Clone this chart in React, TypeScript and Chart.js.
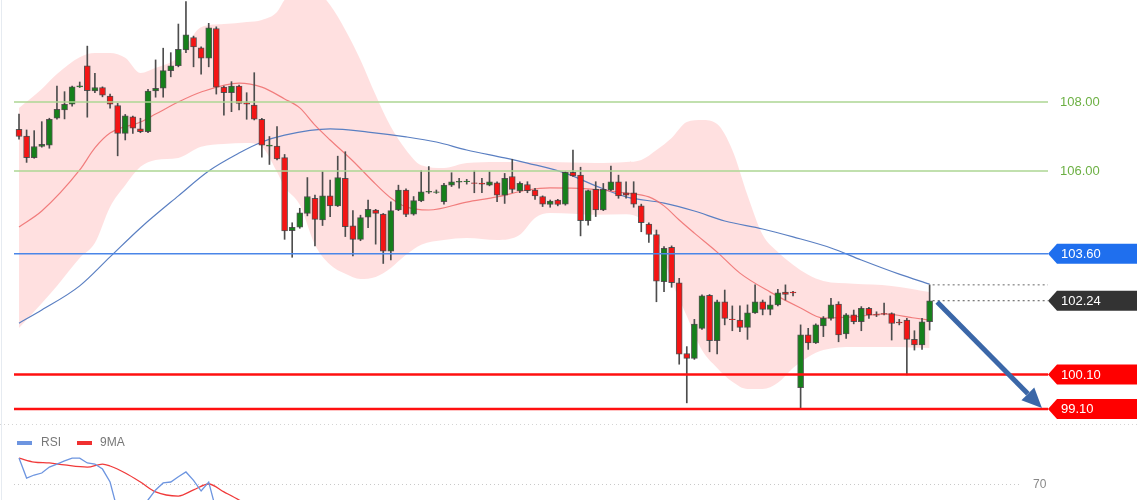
import { useEffect, useRef } from 'react';
import { Chart, registerables } from 'chart.js';

Chart.register(...registerables);

const FONT = '"Liberation Sans", Arial, Helvetica, sans-serif';

// ---- Candles (one per session) ----
const openP = [107.21,107.01,106.39,106.71,106.75,107.53,107.77,107.94,108.44,109.05,
108.32,108.42,108.17,107.90,107.09,107.57,107.22,107.14,108.32,108.40,
108.91,109.05,109.51,109.87,109.57,109.27,110.13,108.43,108.27,108.46,
107.98,107.91,107.50,106.72,106.72,106.39,104.27,104.37,104.77,105.21,
104.58,105.28,104.99,105.79,104.41,104.02,104.66,104.87,104.75,103.68,
104.87,105.45,104.75,105.13,105.39,105.38,105.11,105.59,105.68,105.69,
105.66,105.65,105.59,105.66,105.30,105.84,105.42,105.61,105.45,105.26,
105.03,105.16,105.04,105.96,105.88,104.56,105.47,104.87,105.45,105.69,
105.37,105.37,104.99,104.46,104.16,102.79,103.79,102.76,100.71,100.57,
101.44,102.40,101.08,102.21,101.71,101.68,101.47,101.89,102.21,101.99,
102.12,102.49,102.49,99.72,101.25,101.02,101.51,101.73,102.14,101.28,
101.83,101.63,102.02,101.84,101.87,101.87,101.62,101.68,101.12,100.96,
101.63];
const highP = [107.65,107.19,107.17,107.43,107.53,108.46,108.30,108.46,108.58,109.62,
108.83,108.44,108.23,107.96,107.64,107.59,107.53,108.37,109.22,109.56,
109.43,110.26,110.91,109.91,109.60,110.28,110.18,108.46,108.59,108.49,
108.27,108.85,107.53,107.00,107.29,106.48,104.50,104.92,105.81,105.30,
105.98,105.74,106.43,106.56,104.85,104.72,105.16,104.89,104.77,105.11,
105.59,105.48,105.26,106.01,106.13,105.45,105.64,105.95,105.79,105.76,
106.00,105.79,105.98,105.69,105.93,106.34,105.69,105.69,105.50,105.28,
105.16,105.18,105.98,106.61,106.11,105.45,105.69,105.64,106.14,105.88,
105.69,105.69,105.04,104.50,104.29,103.81,103.83,102.89,100.91,101.70,
102.41,102.42,102.26,102.55,102.09,102.09,102.12,102.70,102.26,102.38,
102.57,102.70,102.51,101.54,101.44,101.57,101.78,102.31,102.21,101.87,
101.97,102.07,102.05,101.92,102.17,101.89,101.70,101.73,101.37,101.73,
102.70];
const lowP = [106.92,106.25,106.37,106.69,106.66,107.50,107.51,107.88,108.42,107.56,
108.27,108.15,107.82,106.44,106.90,107.09,107.11,107.11,108.14,108.14,
108.73,109.02,109.43,109.02,108.81,109.02,108.23,107.62,107.72,107.77,
107.50,107.48,106.40,106.19,106.32,104.02,103.50,104.34,104.70,103.83,
104.42,104.68,104.97,104.10,103.54,103.98,104.36,103.88,103.32,103.42,
104.85,104.68,104.72,105.11,105.35,105.35,105.04,105.55,105.50,105.62,
105.37,105.37,105.57,105.11,105.06,105.37,105.37,105.37,105.18,104.97,
104.95,104.99,105.01,105.84,104.12,104.43,104.68,104.85,105.43,105.21,
105.21,104.95,104.24,103.93,102.21,102.50,102.63,100.40,99.28,100.54,
101.41,100.76,100.70,101.54,101.37,101.34,101.12,101.87,101.83,101.83,
102.09,102.26,102.38,99.09,100.83,101.00,101.20,101.68,101.05,101.15,
101.57,101.37,101.73,101.78,101.83,101.10,101.54,100.09,100.81,100.83,
101.39];
const closeP = [107.00,106.39,106.71,106.77,107.50,107.79,107.93,108.44,108.47,108.33,
108.42,108.20,107.94,107.09,107.60,107.24,107.14,108.32,108.40,108.91,
109.05,109.53,109.95,109.60,109.27,110.15,108.43,108.27,108.46,107.96,
107.94,107.50,106.75,106.75,106.35,104.26,104.37,104.79,105.26,104.60,
105.28,104.99,105.81,104.39,104.02,104.65,104.89,104.77,103.68,104.85,
105.45,104.74,105.14,105.40,105.41,105.40,105.59,105.69,105.70,105.71,
105.64,105.62,105.69,105.30,105.79,105.47,105.64,105.43,105.28,105.04,
105.13,105.03,105.96,105.86,104.56,105.43,104.87,105.47,105.69,105.28,
105.30,105.04,104.50,104.16,102.81,103.76,102.76,100.69,100.57,101.56,
102.38,101.08,102.21,101.73,101.69,101.47,101.89,102.21,101.99,102.12,
102.47,102.42,102.47,101.25,101.02,101.54,101.73,102.12,101.25,101.83,
101.63,102.02,101.83,101.82,101.85,101.58,101.60,101.12,100.96,101.63,
102.24];

// ---- Bollinger band ----
const bandIdx = [0,3,5,8,10,12,14,16,18,21,24,27,30,32,34,35,37,39,41,43,45,47,49,51,53,56,59,63,66,68,70,76,80,82,84,86,88,90,92,94,96,98,100,102,104,106,110,115,120];
const bandUpper = [107.83,108.38,108.81,109.30,109.42,109.42,109.28,108.84,108.99,109.30,110.17,110.26,110.32,110.38,110.61,110.96,111.30,111.25,110.81,110.09,109.22,108.20,107.28,106.61,106.17,106.09,106.23,106.26,106.26,106.26,106.26,106.23,106.26,106.32,106.61,106.96,107.42,107.48,107.36,106.61,105.30,104.15,103.65,103.28,102.99,102.81,102.73,102.67,102.49];
const bandLower = [101.45,102.17,102.67,103.48,103.91,104.96,105.59,106.12,106.32,106.38,106.70,106.78,106.81,106.70,105.97,105.54,105.02,103.86,103.28,103.02,102.87,102.93,103.19,103.57,103.86,104.00,104.06,104.00,104.15,104.64,104.78,104.73,104.75,104.61,104.09,102.81,101.80,100.81,100.29,99.89,99.68,99.68,99.86,100.29,100.61,100.81,100.90,100.90,100.87];

// ---- Moving averages ----
const maRedIdx = [0,3,8,10,12,16,18,21,24,29,32,35,37,39,41,44,47,49,51,54,59,63,67,70,75,80,83,85,87,89,92,95,99,103,106,110,114,118,120];
const maRedVals = [104.38,104.84,106.03,106.67,107.10,107.42,107.65,108.0,108.29,108.55,108.43,108.09,107.83,107.33,106.90,106.29,105.62,105.22,104.96,104.87,105.10,105.25,105.45,105.51,105.48,105.36,105.25,104.99,104.58,104.20,103.65,103.04,102.49,102.03,101.74,101.77,101.86,101.74,101.68];
const maBlueIdx = [0,3,8,12,16,21,25,29,32,35,41,46,51,55,59,64,67,72,76,80,85,89,93,98,102,107,111,116,120];
const maBlueVals = [101.59,101.97,102.67,103.51,104.35,105.28,106.0,106.52,106.84,107.04,107.22,107.13,106.99,106.84,106.61,106.38,106.23,105.94,105.57,105.25,105.07,104.84,104.55,104.32,104.09,103.77,103.42,103.01,102.72];

// ---- Levels ----
const greenLevels = [108.0, 106.0];
const blueLevel = 103.6;
const redLevels = [100.1, 99.1];
const arrowFrom = [121, 102.2];
const arrowTo = [134.8, 99.13];

// ---- RSI panel ----
const rsiNames = ['RSI', '9MA'];
const rsiIdx = [0,1,2,3,4,5,6,7,8,9,10,11,12,13,14,15,16,17,18,19,20,21,22,23,24,25,26,27];
const rsiVals = [84.4,73.3,75.0,76.1,79.4,81.1,82.8,84.4,84.4,81.7,81.1,78.3,71.1,55.0,50.0,48.0,55.0,61.1,66.7,70.6,71.1,74.0,76.7,72.0,66.1,71.1,55.0,50.0];
const rsiMaIdx = [0,2,4,6,9,11,12,14,16,18,21,23,25,27,29,31];
const rsiMaVals = [84.4,82.2,81.7,80.6,79.4,81.1,80.0,76.1,71.1,65.6,63.3,66.7,70.0,65.6,61.1,56.0];
const rsiLevel = 70;

const X_MIN = -0.66;
const X_MAX = 135.6;
const Y_MIN = 98.638;
const Y_MAX = 110.957;
const RSI_MIN = 61.1;
const RSI_MAX = 102.8;

const RED = '#f41515';
const GREEN = '#16801b';

function pts(xs: number[], ys: number[]) {
  return xs.map((x, k) => ({ x, y: ys[k] }));
}

function hline(v: number, color: string, width: number) {
  return {
    type: 'line',
    data: [{ x: X_MIN, y: v }, { x: X_MAX, y: v }],
    borderColor: color,
    borderWidth: width,
    pointRadius: 0,
    fill: false,
    order: 4,
  };
}

function drawTag(ctx: CanvasRenderingContext2D, xl: number, xr: number, y: number, color: string, text: string) {
  const h = 20;
  const tip = 9;
  ctx.beginPath();
  ctx.moveTo(xl, y);
  ctx.lineTo(xl + tip, y - h / 2);
  ctx.lineTo(xr, y - h / 2);
  ctx.lineTo(xr, y + h / 2);
  ctx.lineTo(xl + tip, y + h / 2);
  ctx.closePath();
  ctx.fillStyle = color;
  ctx.fill();
  ctx.fillStyle = '#ffffff';
  ctx.font = `13px ${FONT}`;
  ctx.textAlign = 'left';
  ctx.textBaseline = 'middle';
  ctx.fillText(text, xl + 13, y + 0.5);
}

const mainDeco = {
  id: 'mainDeco',
  afterDatasetsDraw(chart: any) {
    const { ctx, chartArea, scales } = chart;
    const xs = scales.x;
    const ys = scales.y;
    const last = closeP.length - 1;
    ctx.save();
    ctx.fillStyle = '#e6ebf1';
    ctx.fillRect(1, 0, 1, chart.height);

    ctx.font = `13px ${FONT}`;
    ctx.textAlign = 'left';
    ctx.textBaseline = 'middle';
    greenLevels.forEach((v) => {
      ctx.fillStyle = '#6cb043';
      ctx.fillText(v.toFixed(2), chartArea.right + 12, ys.getPixelForValue(v) + 0.5);
    });
    const xr = chart.width - 3;
    drawTag(ctx, chartArea.right, xr, ys.getPixelForValue(blueLevel), '#1f6fee', blueLevel.toFixed(2));
    drawTag(ctx, chartArea.right, xr, ys.getPixelForValue(closeP[last]), '#333333', closeP[last].toFixed(2));
    redLevels.forEach((v) => drawTag(ctx, chartArea.right, xr, ys.getPixelForValue(v), '#ff0000', v.toFixed(2)));

    // arrow
    const x1 = xs.getPixelForValue(arrowFrom[0]);
    const y1 = ys.getPixelForValue(arrowFrom[1]);
    const x2 = xs.getPixelForValue(arrowTo[0]);
    const y2 = ys.getPixelForValue(arrowTo[1]);
    const ang = Math.atan2(y2 - y1, x2 - x1);
    const headLen = 20;
    const headW = 9;
    const bx = x2 - headLen * Math.cos(ang);
    const by = y2 - headLen * Math.sin(ang);
    ctx.strokeStyle = '#3b67a8';
    ctx.fillStyle = '#3b67a8';
    ctx.lineWidth = 5;
    ctx.beginPath();
    ctx.moveTo(x1, y1);
    ctx.lineTo(bx, by);
    ctx.stroke();
    ctx.beginPath();
    ctx.moveTo(x2, y2);
    ctx.lineTo(bx + headW * Math.sin(ang), by - headW * Math.cos(ang));
    ctx.lineTo(bx - headW * Math.sin(ang), by + headW * Math.cos(ang));
    ctx.closePath();
    ctx.fill();

    // separator between panels
    ctx.strokeStyle = '#d4d4d4';
    ctx.lineWidth = 1;
    ctx.setLineDash([1, 3]);
    ctx.beginPath();
    ctx.moveTo(0, chart.height - 0.5);
    ctx.lineTo(chart.width, chart.height - 0.5);
    ctx.stroke();
    ctx.restore();
  },
};

function mainConfig(): any {
  const idx = openP.map((_, i) => i);
  const last = idx.length - 1;
  const bodyColors = idx.map((i) => (closeP[i] >= openP[i] ? GREEN : RED));
  return {
    type: 'line',
    data: {
      datasets: [
        {
          type: 'line',
          label: 'BB upper',
          data: pts(bandIdx, bandUpper),
          borderWidth: 0,
          borderColor: 'rgba(0,0,0,0)',
          backgroundColor: 'rgba(255,0,0,0.12)',
          fill: '+1',
          pointRadius: 0,
          cubicInterpolationMode: 'monotone',
          order: 20,
        },
        {
          type: 'line',
          label: 'BB lower',
          data: pts(bandIdx, bandLower),
          borderWidth: 0,
          borderColor: 'rgba(0,0,0,0)',
          fill: false,
          pointRadius: 0,
          cubicInterpolationMode: 'monotone',
          order: 19,
        },
        {
          type: 'line',
          label: 'MA red',
          data: pts(maRedIdx, maRedVals),
          borderColor: 'rgba(238,100,100,0.8)',
          borderWidth: 1.2,
          pointRadius: 0,
          fill: false,
          cubicInterpolationMode: 'monotone',
          order: 15,
        },
        {
          type: 'line',
          label: 'MA blue',
          data: pts(maBlueIdx, maBlueVals),
          borderColor: '#5a7fc2',
          borderWidth: 1.2,
          pointRadius: 0,
          fill: false,
          cubicInterpolationMode: 'monotone',
          order: 15,
        },
        {
          type: 'bar',
          label: 'wicks',
          data: idx.map((i) => ({ x: i, y: [lowP[i], highP[i]] })),
          backgroundColor: '#4d4d4d',
          barThickness: 1,
          grouped: false,
          order: 12,
        },
        {
          type: 'bar',
          label: 'bodies',
          data: idx.map((i) => ({ x: i, y: [Math.min(openP[i], closeP[i]), Math.max(openP[i], closeP[i])] })),
          backgroundColor: bodyColors,
          borderColor: 'rgba(60,60,60,0.85)',
          borderWidth: 1,
          borderSkipped: false,
          barThickness: 6,
          grouped: false,
          order: 11,
        },
        hline(greenLevels[0], '#acd693', 1.5),
        hline(greenLevels[1], '#acd693', 1.5),
        hline(blueLevel, '#4a86e8', 1.6),
        hline(redLevels[0], '#ff1010', 2.5),
        hline(redLevels[1], '#ff1010', 2.5),
        {
          type: 'line',
          label: 'last high',
          data: [{ x: last + 0.4, y: highP[last] }, { x: X_MAX, y: highP[last] }],
          borderColor: '#666',
          borderWidth: 1,
          borderDash: [2, 3],
          pointRadius: 0,
          fill: false,
          order: 3,
        },
        {
          type: 'line',
          label: 'last close',
          data: [{ x: last + 0.4, y: closeP[last] }, { x: X_MAX, y: closeP[last] }],
          borderColor: '#555',
          borderWidth: 1,
          borderDash: [2, 3],
          pointRadius: 0,
          fill: false,
          order: 3,
        },
      ],
    },
    options: {
      responsive: false,
      animation: false,
      devicePixelRatio: 1,
      events: [],
      layout: { padding: { left: 14, right: 92, top: 0, bottom: 0 } },
      scales: {
        x: { type: 'linear', min: X_MIN, max: X_MAX, display: false, offset: false },
        y: { type: 'linear', min: Y_MIN, max: Y_MAX, display: false },
      },
      plugins: { legend: { display: false }, tooltip: { enabled: false } },
    },
    plugins: [mainDeco],
  };
}

const rsiDeco = {
  id: 'rsiDeco',
  beforeDatasetsDraw(chart: any) {
    const { ctx, chartArea, scales } = chart;
    const y = Math.round(scales.y.getPixelForValue(rsiLevel)) + 0.5;
    ctx.save();
    ctx.strokeStyle = '#c9c9c9';
    ctx.lineWidth = 1;
    ctx.setLineDash([1, 3]);
    ctx.beginPath();
    ctx.moveTo(chartArea.left, y);
    ctx.lineTo(chartArea.right - 26, y);
    ctx.stroke();
    ctx.restore();
  },
  afterDatasetsDraw(chart: any) {
    const { ctx, chartArea, scales } = chart;
    ctx.save();
    ctx.fillStyle = '#e6ebf1';
    ctx.fillRect(1, 0, 1, chart.height);
    ctx.font = `12px ${FONT}`;
    ctx.textBaseline = 'middle';
    ctx.textAlign = 'left';
    ctx.fillStyle = '#6d95e0';
    ctx.fillRect(17, 16, 15, 4);
    ctx.fillStyle = '#777';
    ctx.fillText(rsiNames[0], 41, 18);
    ctx.fillStyle = '#f03030';
    ctx.fillRect(77, 16, 15, 4);
    ctx.fillStyle = '#777';
    ctx.fillText(rsiNames[1], 100, 18);
    ctx.fillStyle = '#888';
    ctx.fillText(String(rsiLevel), chartArea.right - 15, scales.y.getPixelForValue(rsiLevel) + 0.5);
    ctx.restore();
  },
};

function rsiConfig(): any {
  return {
    type: 'line',
    data: {
      datasets: [
        {
          label: rsiNames[0],
          data: pts(rsiIdx, rsiVals),
          borderColor: '#6d95e0',
          borderWidth: 1.3,
          pointRadius: 0,
          fill: false,
          tension: 0,
        },
        {
          label: rsiNames[1],
          data: pts(rsiMaIdx, rsiMaVals),
          borderColor: '#f03a3a',
          borderWidth: 1.3,
          pointRadius: 0,
          fill: false,
          cubicInterpolationMode: 'monotone',
        },
      ],
    },
    options: {
      responsive: false,
      animation: false,
      devicePixelRatio: 1,
      events: [],
      layout: { padding: { left: 14, right: 92, top: 0, bottom: 0 } },
      scales: {
        x: { type: 'linear', min: X_MIN, max: X_MAX, display: false },
        y: { type: 'linear', min: RSI_MIN, max: RSI_MAX, display: false },
      },
      plugins: { legend: { display: false }, tooltip: { enabled: false } },
    },
    plugins: [rsiDeco],
  };
}

export default function App() {
  const mainRef = useRef<HTMLCanvasElement>(null);
  const rsiRef = useRef<HTMLCanvasElement>(null);
  useEffect(() => {
    Chart.defaults.font.family = FONT;
    const c1 = new Chart(mainRef.current as HTMLCanvasElement, mainConfig());
    const c2 = new Chart(rsiRef.current as HTMLCanvasElement, rsiConfig());
    return () => {
      c1.destroy();
      c2.destroy();
    };
  }, []);
  return (
    <div style={{ position: 'fixed', left: 0, top: 0, width: 1140, height: 500, background: '#ffffff', overflow: 'hidden' }}>
      <canvas ref={mainRef} width={1140} height={425} style={{ display: 'block' }} />
      <canvas ref={rsiRef} width={1140} height={75} style={{ display: 'block' }} />
    </div>
  );
}
